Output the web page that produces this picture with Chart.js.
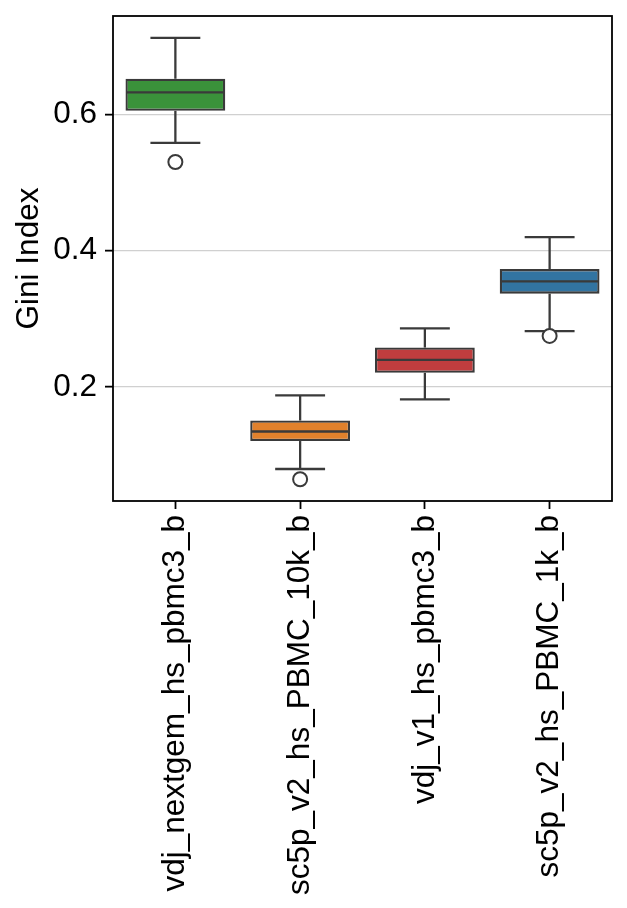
<!DOCTYPE html>
<html><head><meta charset="utf-8">
<script src="https://cdn.jsdelivr.net/npm/chart.js@4/dist/chart.umd.min.js"></script>
<style>html,body{margin:0;padding:0;background:#fff}#wrap{width:627px;height:908px;position:relative}</style>
</head><body><div id="wrap"><canvas id="c"></canvas></div>
<script>
const categories = ['vdj_nextgem_hs_pbmc3_b','sc5p_v2_hs_PBMC_10k_b','vdj_v1_hs_pbmc3_b','sc5p_v2_hs_PBMC_1k_b'];
const whiskerHigh = [0.712, 0.188, 0.286, 0.420];
const q3Values    = [0.652, 0.151, 0.258, 0.373];
const medians     = [0.632, 0.135, 0.240, 0.355];
const q1Values    = [0.605, 0.121, 0.221, 0.337];
const whiskerLow  = [0.558, 0.080, 0.182, 0.282];
const outliers    = [0.530, 0.065, null, 0.275];
const boxColors   = ['#3a923a','#e1812c','#c03d3e','#3274a1'];
const yTicks      = [0.2, 0.4, 0.6];
const LINE = '#3a3a3a';
const FONT = "'Liberation Sans', Arial, sans-serif";
const FS = 31.5;

const boxes = categories.map((c,i)=>[q1Values[i], q3Values[i]]);

function seg(ctx,x1,y1,x2,y2){ctx.beginPath();ctx.moveTo(x1,y1);ctx.lineTo(x2,y2);ctx.stroke();}

const boxParts = {
  id:'boxParts',
  beforeDatasetsDraw(chart){
    const {ctx, scales:{y}} = chart;
    const meta = chart.getDatasetMeta(0);
    ctx.save(); ctx.strokeStyle = LINE; ctx.lineWidth = 2.3; ctx.lineCap='butt';
    categories.forEach((c,i)=>{
      const bar = meta.data[i]; const cx = bar.x; const cap = bar.width/4;
      const yHi = y.getPixelForValue(whiskerHigh[i]), yQ3 = y.getPixelForValue(q3Values[i]);
      const yLo = y.getPixelForValue(whiskerLow[i]), yQ1 = y.getPixelForValue(q1Values[i]);
      seg(ctx,cx,yQ3,cx,yHi); seg(ctx,cx-cap,yHi,cx+cap,yHi);
      seg(ctx,cx,yQ1,cx,yLo); seg(ctx,cx-cap,yLo,cx+cap,yLo);
    });
    ctx.restore();
  },
  afterDatasetsDraw(chart){
    const {ctx, scales:{y}} = chart;
    const meta = chart.getDatasetMeta(0);
    ctx.save(); ctx.strokeStyle = LINE; ctx.lineWidth = 2.3;
    categories.forEach((c,i)=>{
      const bar = meta.data[i]; const half = bar.width/2 - 1;
      const ym = y.getPixelForValue(medians[i]);
      seg(ctx,bar.x-half,ym,bar.x+half,ym);
    });
    ctx.restore();
  },
  afterDraw(chart){
    const {ctx, chartArea:a} = chart;
    ctx.save(); ctx.strokeStyle='#000'; ctx.lineWidth=1.8;
    ctx.strokeRect(a.left, a.top, a.right-a.left, a.bottom-a.top);
    ctx.restore();
  }
};

new Chart(document.getElementById('c'), {
  type:'bar',
  data:{
    labels: categories,
    datasets:[
      {type:'bar', data: boxes, backgroundColor: boxColors, borderColor: LINE, borderWidth: 2.3,
       borderSkipped:false, barPercentage:1, categoryPercentage:0.8, order:2},
      {type:'line', data: outliers, showLine:false, pointRadius:7, pointBorderWidth:2,
       pointBorderColor: LINE, pointBackgroundColor:'#fff', order:1}
    ]
  },
  options:{
    responsive:true, maintainAspectRatio:false, animation:false,
    layout:{padding:{top:16, right:15, left:0, bottom:0}},
    plugins:{legend:{display:false}, tooltip:{enabled:false}},
    scales:{
      x:{
        offset:true,
        grid:{offset:false, drawOnChartArea:false, drawTicks:true, tickLength:8, tickColor:'#000', tickWidth:1.8},
        border:{display:false},
        ticks:{minRotation:90, maxRotation:90, autoSkip:false, padding:6, color:'#000', font:{family:FONT, size:FS}},
        afterFit(s){ s.height = 407; s.paddingLeft = 0; s.paddingRight = 0; }
      },
      y:{
        min:0.0331, max:0.744,
        afterBuildTicks(s){ s.ticks = yTicks.map(v=>({value:v})); },
        grid:{color:'#d0d0d0', lineWidth:1.3, tickLength:8, tickColor:'#000', tickWidth:1.8},
        border:{display:false},
        ticks:{padding:8, color:'#000', font:{family:FONT, size:FS}, callback:(v)=>Number(v).toFixed(1)},
        title:{display:true, text:'Gini Index', color:'#000', font:{family:FONT, size:FS}, padding:{top:10,bottom:0}},
        afterFit(s){ s.width = 113; s.paddingTop = 0; s.paddingBottom = 0; }
      }
    }
  },
  plugins:[boxParts]
});
</script></body></html>
